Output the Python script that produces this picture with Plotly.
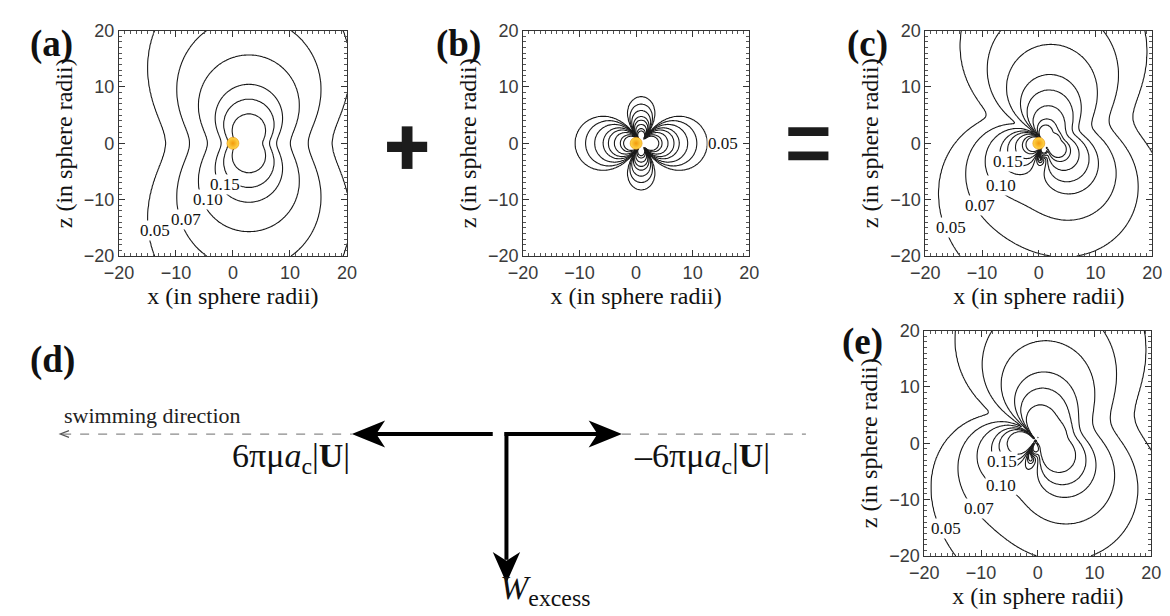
import numpy as np
import plotly.graph_objects as go

# ---------------- data ----------------
LEVELS = [0.05, 0.07, 0.10, 0.15, 0.20, 0.30, 0.50, 0.70, 1.00]
N_LEVELS_A = 7                      # panels (a) and (e) show the outer 7 levels
N_LEVELS_E = 7
LABEL_LEVELS = [0.05, 0.07, 0.10, 0.15]
LABEL_TEXTS = ["0.05", "0.07", "0.10", "0.15"]
LABEL_ROWS_A = [-15.5, -13.5, -9.9, -7.3]
LABEL_ROWS_C = [-15.0, -11.0, -7.5, -3.2]
LABEL_ROWS_E = [-15.2, -11.5, -7.5, -3.2]
LABEL_ROW_B = 0.0
LABEL_SHIFT = 1.1                   # label centre sits right of the line crossing

# flow singularities (strength, x, z[, core]); BETA = axial elongation of the weight-driven flow
STOKESLET_A = [0.73, 2.8, 0.0]      # excess weight, force along -z
BETA = 1.15
STRESSLET_B = [3.4, 0.9, 0.0, 0.0]  # swimming force dipole along x
STOKESLET_E = [0.75, 2.6, 0.0]
STRESSLET_E = [3.9, -0.4, 0.5, 1.3]
SPHERE_XZ = [0.0, 0.0]

AX_RANGE = [-20, 20]
GRID_N = 201

W, H = 1170, 616


# ---------------- flow fields ----------------
def stokeslet(X, Z, p):
    s, x0, z0 = p
    dx, dz = X - x0, Z - z0
    r = np.maximum(np.sqrt(dx ** 2 + dz ** 2), 1e-3)
    ed = -dz / r                     # e = (0, -1)
    return s * BETA * ed * dx / r ** 2, s * (-1.0 / r + BETA * ed * dz / r ** 2)


def stresslet(X, Z, p):
    d, x0, z0, eps = p
    dx, dz = X - x0, Z - z0
    r = np.maximum(np.sqrt(dx ** 2 + dz ** 2), 1e-3)
    re = np.sqrt(r ** 2 + eps ** 2)
    c = dx / r
    f = d * (3 * c ** 2 - 1) * r / re ** 3
    return f * dx / r, f * dz / r


def mag(u):
    return np.sqrt(u[0] ** 2 + u[1] ** 2)


def field_a(X, Z):
    return mag(stokeslet(X, Z, STOKESLET_A))


def field_b(X, Z):
    return mag(stresslet(X, Z, STRESSLET_B))


def field_c(X, Z):
    ua, ub = stokeslet(X, Z, STOKESLET_A), stresslet(X, Z, STRESSLET_B)
    return mag((ua[0] + ub[0], ua[1] + ub[1]))


def field_e(X, Z):
    ua, ub = stokeslet(X, Z, STOKESLET_E), stresslet(X, Z, STRESSLET_E)
    return mag((ua[0] + ub[0], ua[1] + ub[1]))


xs = np.linspace(AX_RANGE[0], AX_RANGE[1], GRID_N)
XX, ZZ = np.meshgrid(xs, xs)


def level_index(F, levels):
    ext = [0.0] + list(levels) + [1e9]
    idx = [-1.0] + list(range(len(levels))) + [float(len(levels))]
    return np.round(np.interp(F, ext, idx), 4)


def cross_from_left(fun, level, zrow, xmax=-1.5):
    xx = np.linspace(AX_RANGE[0], xmax, 4001)
    v = fun(xx, np.full_like(xx, zrow))
    hit = v >= level
    return float(xx[np.argmax(hit)]) if hit.any() else xmax


def cross_from_right(fun, level, zrow, xmin=1.0):
    xx = np.linspace(AX_RANGE[1], xmin, 4001)
    v = fun(xx, np.full_like(xx, zrow))
    return float(xx[np.argmax(v >= level)])


# ---------------- figure ----------------
def dom(px0, px1):
    return [px0 / W, px1 / W]


def domy(py0, py1):
    return [1 - py1 / H, 1 - py0 / H]


panels = [
    # field, levels, xdomain, ydomain, sphere, label rows
    (field_a, LEVELS[:N_LEVELS_A], dom(98, 331), domy(13, 246), True, LABEL_ROWS_A),
    (field_b, LEVELS, dom(511, 742), domy(13, 246), True, None),
    (field_c, LEVELS, dom(922, 1154), domy(13, 246), True, LABEL_ROWS_C),
    (field_e, LEVELS[:N_LEVELS_E], dom(921, 1153), domy(323, 556), False, LABEL_ROWS_E),
]

fig = go.Figure()
annotations = []
layout_axes = {}

tickfont = dict(family="Liberation Sans", size=18, color="#3a3a3a")
titlefont = dict(family="Liberation Serif", size=24, color="#111")
labelfont = dict(family="Liberation Serif", size=17, color="#111")

for i, (fun, levels, xd, yd, sphere, rows) in enumerate(panels):
    k = "" if i == 0 else str(i + 1)
    xa, ya = "x" + k, "y" + k
    M = level_index(fun(XX, ZZ), levels)
    fig.add_trace(go.Contour(
        x=xs, y=xs, z=M, xaxis=xa, yaxis=ya,
        autocontour=False,
        contours=dict(start=0, end=len(levels) - 1, size=1, coloring="lines", showlabels=False),
        colorscale=[[0, "#1a1a1a"], [1, "#1a1a1a"]], showscale=False,
        line=dict(width=1.1), hoverinfo="skip",
    ))
    if sphere:
        fig.add_trace(go.Scatter(
            x=[SPHERE_XZ[0]], y=[SPHERE_XZ[1]], xaxis=xa, yaxis=ya, mode="markers",
            marker=dict(size=12, color="#ffd84a", line=dict(width=0.6, color="#e8900a"),
                        gradient=dict(type="radial", color="#f39a0c")),
            hoverinfo="skip", showlegend=False,
        ))
    if rows is not None:
        for lev, txt, zr in zip(LABEL_LEVELS, LABEL_TEXTS, rows):
            xc = cross_from_left(fun, lev, zr) + LABEL_SHIFT
            annotations.append(dict(
                x=xc, y=zr, xref=xa, yref=ya, text=txt, showarrow=False, font=labelfont,
                bgcolor="white", borderpad=0, xanchor="center", yanchor="middle"))
    else:
        xc = cross_from_right(fun, LEVELS[0], LABEL_ROW_B)
        annotations.append(dict(
            x=xc, y=LABEL_ROW_B, xref=xa, yref=ya, text="0.05", showarrow=False, font=labelfont,
            bgcolor="white", borderpad=0, xanchor="left", yanchor="middle"))

    common = dict(range=AX_RANGE, tickmode="linear", tick0=-20, dtick=10,
                  ticks="inside", ticklen=6, tickwidth=1, tickcolor="#333",
                  showline=True, linecolor="#333", linewidth=1, mirror="allticks",
                  showgrid=False, zeroline=False, tickfont=tickfont,
                  minor=dict(dtick=1, ticks="inside", ticklen=3, tickwidth=1, tickcolor="#555", showgrid=False))
    layout_axes["xaxis" + k] = dict(common, domain=xd, anchor=ya,
                                    title=dict(text="x (in sphere radii)", font=titlefont, standoff=3))
    layout_axes["yaxis" + k] = dict(common, domain=yd, anchor=xa,
                                    title=dict(text="z (in sphere radii)", font=titlefont, standoff=4))

# panel letters
PANEL_LETTERS = [("(a)", 5, 27), ("(b)", 420, 27), ("(c)", 840, 27), ("(e)", 835, 335), ("(d)", 5, 353)]
for txt, px, py in PANEL_LETTERS:
    annotations.append(dict(x=px / W, y=1 - py / H, xref="paper", yref="paper", text="<b>%s</b>" % txt,
                            showarrow=False, xanchor="left", yanchor="middle",
                            font=dict(family="Liberation Serif", size=37, color="#111")))


def P(x, y):
    return x / W, 1 - y / H


shapes = []


def rect(x0, y0, x1, y1, color="#1c1c1c"):
    a, b = P(x0, y0)
    c, d = P(x1, y1)
    shapes.append(dict(type="rect", xref="paper", yref="paper", x0=a, y0=d, x1=c, y1=b,
                       fillcolor=color, line=dict(width=0)))


def line(x0, y0, x1, y1, width=1, color="black", dash="solid"):
    a, b = P(x0, y0)
    c, d = P(x1, y1)
    shapes.append(dict(type="line", xref="paper", yref="paper", x0=a, y0=b, x1=c, y1=d,
                       line=dict(width=width, color=color, dash=dash)))


def poly(pts, fill="black", closed=True, width=0, color="black"):
    s = "M " + " L ".join("%.5f,%.5f" % P(x, y) for x, y in pts) + (" Z" if closed else "")
    shapes.append(dict(type="path", xref="paper", yref="paper", path=s,
                       fillcolor=fill if closed else None, line=dict(width=width, color=color)))


# "+" and "="
rect(372, 128, 413, 138.5)
rect(387, 112, 398, 156)
rect(782, 113, 823, 122)
rect(782, 138, 823, 147)

# (d) force diagram
YA = 430
LT, RT, CX = 336, 612, 494     # left tip, right tip, corner x
line(40, YA, LT, YA, width=1.2, color="#8a8a8a", dash="dash")
poly([(47, YA - 3.5), (38, YA), (47, YA + 3.5)], closed=False, width=1.2, color="#555")
line(RT, YA, 800, YA, width=1.2, color="#8a8a8a", dash="dash")
line(480, YA, LT + 22, YA, width=4)
poly([(LT, YA), (LT + 34, YA - 14), (LT + 25, YA), (LT + 34, YA + 14)])
line(CX - 2, YA, RT - 22, YA, width=4)
poly([(RT, YA), (RT - 34, YA - 14), (RT - 25, YA), (RT - 34, YA + 14)])
line(CX, YA - 2, CX, 560, width=4)
poly([(CX, 584), (CX - 14, 552), (CX, 561), (CX + 14, 552)])

annotations += [
    dict(x=P(40, 0)[0], y=P(0, 411)[1], xref="paper", yref="paper", text="swimming direction",
         showarrow=False, xanchor="left", yanchor="middle",
         font=dict(family="Liberation Serif", size=22, color="#222")),
    dict(x=P(336, 0)[0], y=P(0, 455)[1], xref="paper", yref="paper",
         text="6πμ<i>a</i><sub>c</sub>|<b>U</b>|", showarrow=False, xanchor="right", yanchor="middle",
         font=dict(family="Liberation Serif", size=34, color="#111")),
    dict(x=P(622, 0)[0], y=P(0, 455)[1], xref="paper", yref="paper",
         text="–6πμ<i>a</i><sub>c</sub>|<b>U</b>|", showarrow=False, xanchor="left", yanchor="middle",
         font=dict(family="Liberation Serif", size=34, color="#111")),
    dict(x=P(485, 0)[0], y=P(0, 615)[1], xref="paper", yref="paper",
         text="<i>W</i><sub>excess</sub>", showarrow=False, xanchor="left", yanchor="bottom",
         font=dict(family="Liberation Serif", size=34, color="#111")),
]

fig.update_layout(
    width=W, height=H, margin=dict(l=0, r=0, t=0, b=0),
    paper_bgcolor="white", plot_bgcolor="white", showlegend=False,
    annotations=annotations, shapes=shapes, **layout_axes,
)

fig.write_html("out.html")
